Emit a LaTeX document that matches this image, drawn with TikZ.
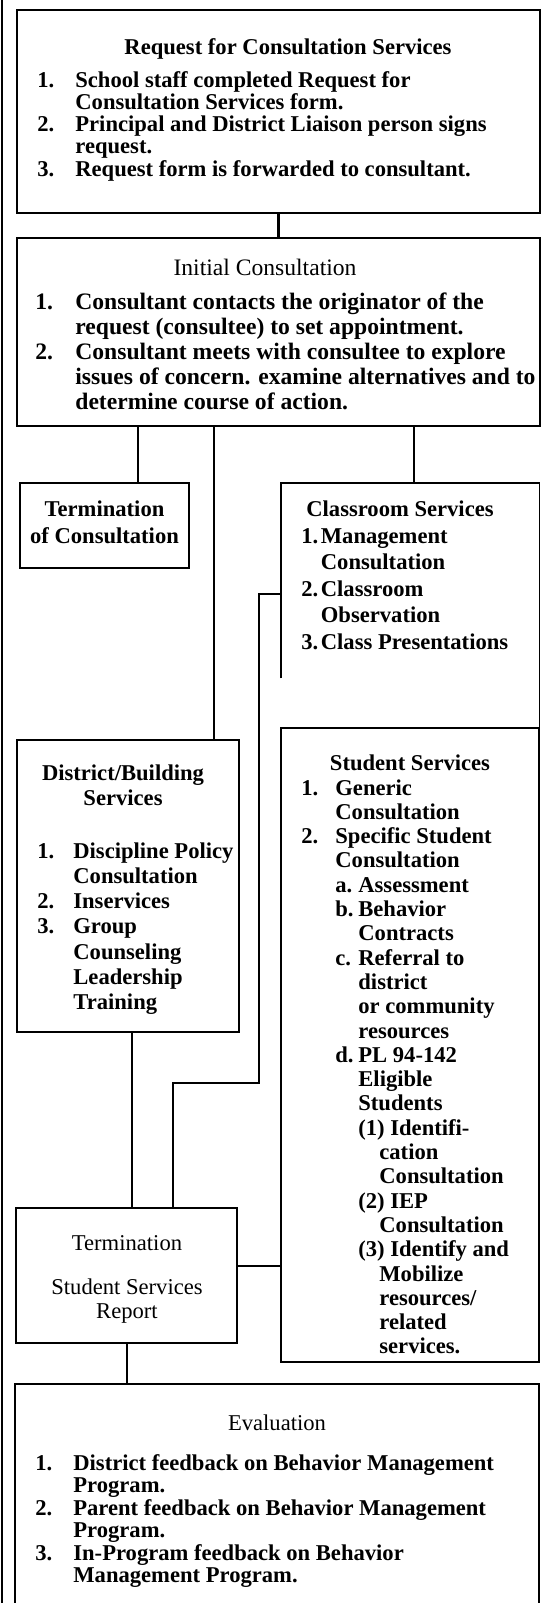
\documentclass[tikz,border=0pt]{standalone}
\usepackage{fontspec}
\setmainfont{Liberation Serif}
\newcommand{\nr}[2]{\makebox[#1][l]{#2}}

\begin{document}
\begin{tikzpicture}[x=0.5pt,y=-0.5pt,
  box/.style={draw,line width=0.9pt,inner sep=0pt},
  txt/.style={inner sep=0pt,font=\bfseries\fontsize{11.3}{12.5}\selectfont},
  link/.style={line width=1.1pt}]
 \useasboundingbox (0,0) rectangle (544,1603);
 \draw[line width=1.2pt] (2,0) -- (2,1603);
% boxes
 \node[box,minimum width=261.5pt,minimum height=101.5pt] (req) at (278.5,111.5) {};
 \node[box,minimum width=261.5pt,minimum height=94pt] (init) at (278.5,332) {};
 \node[box,minimum width=84.5pt,minimum height=42.5pt] (termc) at (104.5,525.5) {};
 \node[inner sep=0pt,minimum width=129pt,minimum height=122.5pt] (class) at (410,605.5) {};
 \draw[line width=0.9pt] ([yshift=25pt]class.south west) -- (class.north west)
   -- (class.north east) -- (class.south east);
 \node[box,minimum width=111pt,minimum height=146pt] (dist) at (128,886) {};
 \node[box,minimum width=129pt,minimum height=317pt] (stud) at (410,1045) {};
 \node[box,minimum width=110.5pt,minimum height=67.5pt] (term) at (126.5,1275.5) {};
 \node[box,minimum width=262pt,minimum height=118pt] (eval) at (277,1502) {};
% texts
 \node[txt,anchor=base] (reqtitle) at (288,54) {Request for Consultation Services};
 \node[txt,anchor=base west,font=\bfseries\fontsize{11.3}{11}\selectfont] (reqlist) at (37,87)
  {\begin{tabular}[t]{@{}l@{}}
   \nr{19pt}{1.}School staff completed Request for\\
   \hspace*{19pt}Consultation Services form.\\
   \nr{19pt}{2.}Principal and District Liaison person signs\\
   \hspace*{19pt}request.\\
   \nr{19pt}{3.}Request form is forwarded to consultant.
  \end{tabular}};
 \node[txt,anchor=base,font=\fontsize{11.8}{12.8}\selectfont] (inittitle) at (265,275) {Initial Consultation};
 \node[txt,anchor=base west,font=\bfseries\fontsize{11.8}{12.6}\selectfont] (initlist) at (35,309)
  {\begin{tabular}[t]{@{}l@{}}
   \nr{20pt}{1.}Consultant contacts the originator of the\\
   \hspace*{20pt}request (consultee) to set appointment.\\
   \nr{20pt}{2.}Consultant meets with consultee to explore\\
   \hspace*{20pt}issues of concern. examine alternatives and to\\
   \hspace*{20pt}determine course of action.
  \end{tabular}};
 \node[txt,anchor=base,font=\bfseries\fontsize{11.3}{13.5}\selectfont] (termctext) at (104.5,516)
  {\begin{tabular}[t]{@{}c@{}}Termination\\of Consultation\end{tabular}};
 \node[txt,anchor=base] (classtitle) at (400,516) {Classroom Services};
 \node[txt,anchor=base west,font=\bfseries\fontsize{11.3}{13.25}\selectfont] (classlist) at (301,543)
  {\begin{tabular}[t]{@{}l@{}}
   \nr{9.75pt}{1.}Management\\
   \hspace*{9.75pt}Consultation\\
   \nr{9.75pt}{2.}Classroom\\
   \hspace*{9.75pt}Observation\\
   \nr{9.75pt}{3.}Class Presentations
  \end{tabular}};
 \node[txt,anchor=base] (disttitle) at (123,780)
  {\begin{tabular}[t]{@{}c@{}}District/Building\\Services\end{tabular}};
 \node[txt,anchor=base west,font=\bfseries\fontsize{11.3}{12.65}\selectfont] (distlist) at (37,858)
  {\begin{tabular}[t]{@{}l@{}}
   \nr{18pt}{1.}Discipline Policy\\
   \hspace*{18pt}Consultation\\
   \nr{18pt}{2.}Inservices\\
   \nr{18pt}{3.}Group\\
   \hspace*{18pt}Counseling\\
   \hspace*{18pt}Leadership\\
   \hspace*{18pt}Training
  \end{tabular}};
 \node[txt,anchor=base] (studtitle) at (410,770) {Student Services};
 \node[txt,anchor=base west,font=\bfseries\fontsize{11.3}{12.15}\selectfont] (studlist) at (301,795)
  {\begin{tabular}[t]{@{}l@{}}
   \nr{17pt}{1.}Generic\\
   \hspace*{17pt}Consultation\\
   \nr{17pt}{2.}Specific Student\\
   \hspace*{17pt}Consultation\\
   \hspace*{17pt}\nr{11.5pt}{a.}Assessment\\
   \hspace*{17pt}\nr{11.5pt}{b.}Behavior\\
   \hspace*{28.5pt}Contracts\\
   \hspace*{17pt}\nr{11.5pt}{c.}Referral to\\
   \hspace*{28.5pt}district\\
   \hspace*{28.5pt}or community\\
   \hspace*{28.5pt}resources\\
   \hspace*{17pt}\nr{11.5pt}{d.}PL 94-142\\
   \hspace*{28.5pt}Eligible\\
   \hspace*{28.5pt}Students\\
   \hspace*{28.5pt}(1) Identifi-\\
   \hspace*{39pt}cation\\
   \hspace*{39pt}Consultation\\
   \hspace*{28.5pt}(2) IEP\\
   \hspace*{39pt}Consultation\\
   \hspace*{28.5pt}(3) Identify and\\
   \hspace*{39pt}Mobilize\\
   \hspace*{39pt}resources/\\
   \hspace*{39pt}related\\
   \hspace*{39pt}services.
  \end{tabular}};
 \node[txt,anchor=base,font=\fontsize{11.3}{12}\selectfont] (termtext) at (127,1250)
  {\begin{tabular}[t]{@{}c@{}}Termination\\[10pt]Student Services\\Report\end{tabular}};
 \node[txt,anchor=base,font=\fontsize{11.3}{12.5}\selectfont] (evaltitle) at (277,1430) {Evaluation};
 \node[txt,anchor=base west,font=\bfseries\fontsize{11.3}{11.25}\selectfont] (evallist) at (35,1470)
  {\begin{tabular}[t]{@{}l@{}}
   \nr{19pt}{1.}District feedback on Behavior Management\\
   \hspace*{19pt}Program.\\
   \nr{19pt}{2.}Parent feedback on Behavior Management\\
   \hspace*{19pt}Program.\\
   \nr{19pt}{3.}In-Program feedback on Behavior\\
   \hspace*{19pt}Management Program.
  \end{tabular}};
% connectors
 \coordinate (ctc) at (138,0);
 \coordinate (cdb) at (214,0);
 \coordinate (ccs) at (414,0);
 \coordinate (cy) at (0,594);
 \coordinate (cjog) at (259,1083);
 \coordinate (ctr) at (173,0);
 \coordinate (cdt) at (132,0);
 \coordinate (cst) at (0,1266);
 \coordinate (cev) at (127,0);
 \draw[link] (req.south) -- (init.north);
 \draw[link] (init.south -| ctc) -- (termc.north -| ctc);
 \draw[link] (init.south -| cdb) -- (dist.north -| cdb);
 \draw[link] (init.south -| ccs) -- (class.north -| ccs);
 \draw[link] (class.west |- cy) -| (cjog) -| (term.north -| ctr);
 \draw[link] (dist.south -| cdt) -- (term.north -| cdt);
 \draw[link] (term.east |- cst) -- (stud.west |- cst);
 \draw[link] (term.south -| cev) -- (eval.north -| cev);
\end{tikzpicture}
\end{document}
